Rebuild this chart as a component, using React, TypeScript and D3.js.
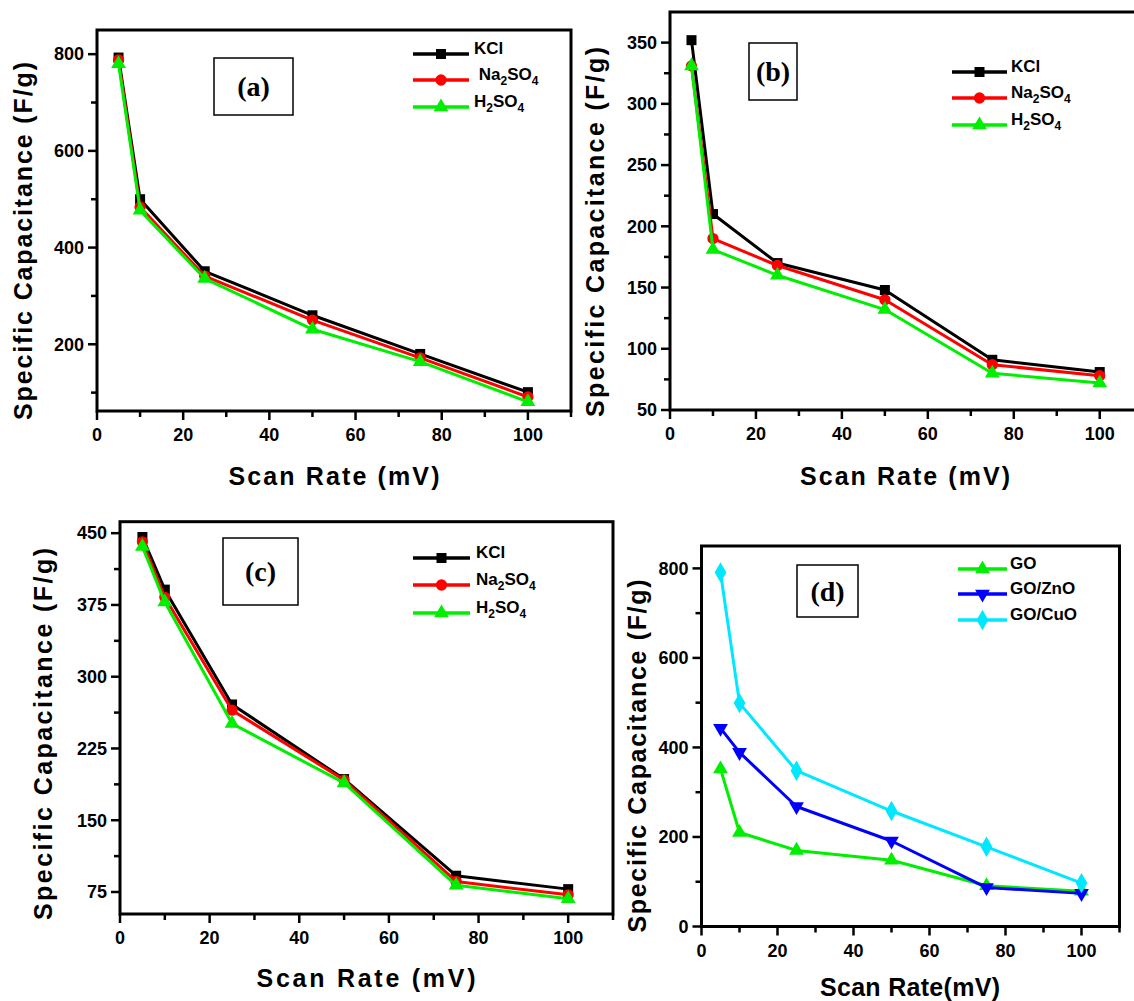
import React from 'react';
import * as d3 from 'd3';

// ---------------- data ----------------
const scanRates = [5, 10, 25, 50, 75, 100];

const aKCl = [793, 500, 351, 260, 180, 101];
const aNa2SO4 = [788, 484, 341, 250, 172, 91];
const aH2SO4 = [780, 477, 336, 231, 164, 81];

const bKCl = [352, 210, 170, 148, 91, 81];
const bNa2SO4 = [331, 190, 168, 140, 87, 78];
const bH2SO4 = [331, 181, 160, 132, 80, 72];

const cKCl = [446, 391, 271, 193, 92, 78];
const cNa2SO4 = [441, 383, 265, 192, 86, 72];
const cH2SO4 = [436, 378, 251, 189, 82, 68];

const dGO = [352, 210, 170, 148, 91, 79];
const dGOZnO = [443, 389, 268, 191, 87, 74];
const dGOCuO = [791, 499, 348, 258, 178, 97];

const xTicks = [0, 20, 40, 60, 80, 100];
const xMinor = [10, 30, 50, 70, 90, 110];
const aYTicks = [200, 400, 600, 800];
const aYMinor = [100, 300, 500, 700];
const bYTicks = [50, 100, 150, 200, 250, 300, 350];
const bYMinor = [75, 125, 175, 225, 275, 325];
const cYTicks = [75, 150, 225, 300, 375, 450];
const cYMinor = [112.5, 187.5, 262.5, 337.5, 412.5];
const dYTicks = [0, 200, 400, 600, 800];
const dYMinor = [100, 300, 500, 700];

const saltNames = ['KCl', 'Na2SO4', 'H2SO4'];
const compositeNames = ['GO', 'GO/ZnO', 'GO/CuO'];
const panelTags = ['(a)', '(b)', '(c)', '(d)'];
const yTitle = 'Specific Capacitance (F/g)';
const xTitle = 'Scan Rate (mV)';
const xTitleD = 'Scan Rate(mV)';

// ---------------- styles / layout ----------------
const BLACK = '#000000';
const RED = '#ff0000';
const GREEN = '#00ee00';
const BLUE = '#0000ff';
const CYAN = '#00e8ff';
const SANS = '"Liberation Sans", Arial, Helvetica, sans-serif';
const SERIF = '"Liberation Serif", "Times New Roman", serif';

type Series = { name: string; values: number[]; color: string; marker: string };

const panels = [
  {
    tag: panelTags[0],
    box: { l: 97, r: 571, t: 30, b: 411 },
    yDomain: [62, 850], yTicks: aYTicks, yMinor: aYMinor,
    series: [
      { name: saltNames[0], values: aKCl, color: BLACK, marker: 'square' },
      { name: ' ' + saltNames[1], values: aNa2SO4, color: RED, marker: 'circle' },
      { name: saltNames[2], values: aH2SO4, color: GREEN, marker: 'triangle' },
    ] as Series[],
    tagBox: { x0: 214, x1: 293, y0: 58, y1: 115 },
    legend: { x0: 413, x1: 469, tx: 474, rows: [54, 80, 107] },
    yLab: { x: 23, y: 241, len: 358 },
    xLab: { x: 334, y: 485, len: 211, text: xTitle },
  },
  {
    tag: panelTags[1],
    box: { l: 670, r: 1142.7, t: 12, b: 410 },
    yDomain: [50, 375], yTicks: bYTicks, yMinor: bYMinor,
    series: [
      { name: saltNames[0], values: bKCl, color: BLACK, marker: 'square' },
      { name: saltNames[1], values: bNa2SO4, color: RED, marker: 'circle' },
      { name: saltNames[2], values: bH2SO4, color: GREEN, marker: 'triangle' },
    ] as Series[],
    tagBox: { x0: 749, x1: 797, y0: 43, y1: 100 },
    legend: { x0: 952, x1: 1007, tx: 1011, rows: [72, 98, 125] },
    yLab: { x: 595, y: 232, len: 370 },
    xLab: { x: 905, y: 485, len: 210, text: xTitle },
  },
  {
    tag: panelTags[2],
    box: { l: 120, r: 613, t: 521.7, b: 914 },
    yDomain: [52, 462], yTicks: cYTicks, yMinor: cYMinor,
    series: [
      { name: saltNames[0], values: cKCl, color: BLACK, marker: 'square' },
      { name: saltNames[1], values: cNa2SO4, color: RED, marker: 'circle' },
      { name: saltNames[2], values: cH2SO4, color: GREEN, marker: 'triangle' },
    ] as Series[],
    tagBox: { x0: 223, x1: 298, y0: 538, y1: 605 },
    legend: { x0: 413, x1: 470, tx: 476, rows: [558, 585, 613] },
    yLab: { x: 43, y: 734, len: 372 },
    xLab: { x: 366, y: 987, len: 219, text: xTitle },
  },
  {
    tag: panelTags[3],
    box: { l: 701.5, r: 1119.5, t: 546, b: 926.5 },
    yDomain: [0, 850], yTicks: dYTicks, yMinor: dYMinor,
    series: [
      { name: compositeNames[0], values: dGO, color: GREEN, marker: 'triangle' },
      { name: compositeNames[1], values: dGOZnO, color: BLUE, marker: 'triangleDown' },
      { name: compositeNames[2], values: dGOCuO, color: CYAN, marker: 'diamond' },
    ] as Series[],
    tagBox: { x0: 797, x1: 858, y0: 565, y1: 617 },
    legend: { x0: 958, x1: 1007, tx: 1010, rows: [569, 594, 620] },
    yLab: { x: 637, y: 756, len: 353 },
    xLab: { x: 910, y: 996, len: 180, text: xTitleD },
  },
];

function markerPath(kind: string): { d: string; rot: number } {
  if (kind === 'square') return { d: d3.symbol(d3.symbolSquare, 100)() as string, rot: 0 };
  if (kind === 'circle') return { d: d3.symbol(d3.symbolCircle, 100)() as string, rot: 0 };
  if (kind === 'triangle') return { d: d3.symbol(d3.symbolTriangle, 95)() as string, rot: 0 };
  if (kind === 'triangleDown') return { d: d3.symbol(d3.symbolTriangle, 95)() as string, rot: 180 };
  return { d: d3.symbol(d3.symbolDiamond, 120)() as string, rot: 0 };
}

function Label({ text, x, y, anchor }: { text: string; x: number; y: number; anchor?: string }) {
  const parts = text.split(/(\d)/).filter((p) => p.length > 0);
  let sub = false;
  return (
    <text x={x} y={y} dy="0.35em" fontFamily={SANS} fontWeight="bold" fontSize={17}
      textAnchor={anchor || 'start'} style={{ whiteSpace: 'pre' }} fill="#000">
      {parts.map((p, i) => {
        const isDigit = /\d/.test(p);
        let dy = 0;
        if (isDigit && !sub) { dy = 5; sub = true; }
        else if (!isDigit && sub) { dy = -5; sub = false; }
        return (
          <tspan key={i} dy={dy} fontSize={isDigit ? 12 : 17}>{p}</tspan>
        );
      })}
    </text>
  );
}

function Panel({ p }: { p: (typeof panels)[number] }) {
  const { l, r, t, b } = p.box;
  const x = d3.scaleLinear().domain([0, 110]).range([l, r]);
  const y = d3.scaleLinear().domain(p.yDomain).range([b, t]);
  const line = d3.line<number>().x((_, i) => x(scanRates[i])).y((v) => y(v));
  return (
    <g>
      {/* series */}
      {p.series.map((s, si) => {
        const m = markerPath(s.marker);
        return (
          <g key={si}>
            <path d={line(s.values) as string} fill="none" stroke={s.color} strokeWidth={3} strokeLinejoin="round" />
            {s.values.map((v, i) => (
              <path key={i} d={m.d} fill={s.color}
                transform={`translate(${x(scanRates[i])},${y(v)}) rotate(${m.rot})`} />
            ))}
          </g>
        );
      })}
      {/* frame */}
      <rect x={l} y={t} width={r - l} height={b - t} fill="none" stroke="#000" strokeWidth={3} />
      {/* x ticks */}
      {xTicks.map((v) => (
        <g key={'xt' + v}>
          <line x1={x(v)} x2={x(v)} y1={b} y2={b + 9} stroke="#000" strokeWidth={2.5} />
          <text x={x(v)} y={b + 30} textAnchor="middle" fontFamily={SANS} fontWeight="bold" fontSize={18}>{v}</text>
        </g>
      ))}
      {xMinor.map((v) => (
        <line key={'xm' + v} x1={x(v)} x2={x(v)} y1={b} y2={b + 6} stroke="#000" strokeWidth={2.5} />
      ))}
      {/* y ticks */}
      {p.yTicks.map((v) => (
        <g key={'yt' + v}>
          <line x1={l - 9} x2={l} y1={y(v)} y2={y(v)} stroke="#000" strokeWidth={2.5} />
          <text x={l - 13} y={y(v)} dy="0.35em" textAnchor="end" fontFamily={SANS} fontWeight="bold" fontSize={18}>{v}</text>
        </g>
      ))}
      {p.yMinor.map((v) => (
        <line key={'ym' + v} x1={l - 6} x2={l} y1={y(v)} y2={y(v)} stroke="#000" strokeWidth={2.5} />
      ))}
      {/* axis titles */}
      <text transform={`translate(${p.yLab.x},${p.yLab.y}) rotate(-90)`} textAnchor="middle" dy="0.35em"
        fontFamily={SANS} fontWeight="bold" fontSize={25} textLength={p.yLab.len} lengthAdjust="spacing">{yTitle}</text>
      <text x={p.xLab.x} y={p.xLab.y} textAnchor="middle" fontFamily={SANS} fontWeight="bold" fontSize={25}
        textLength={p.xLab.len} lengthAdjust="spacing">{p.xLab.text}</text>
      {/* tag box */}
      <rect x={p.tagBox.x0} y={p.tagBox.y0} width={p.tagBox.x1 - p.tagBox.x0} height={p.tagBox.y1 - p.tagBox.y0}
        fill="#fff" stroke="#000" strokeWidth={1.5} />
      <text x={(p.tagBox.x0 + p.tagBox.x1) / 2} y={(p.tagBox.y0 + p.tagBox.y1) / 2} dy="0.35em" textAnchor="middle"
        fontFamily={SERIF} fontWeight="bold" fontSize={28}>{p.tag}</text>
      {/* legend */}
      {p.series.map((s, si) => {
        const m = markerPath(s.marker);
        const ry = p.legend.rows[si];
        const mx = (p.legend.x0 + p.legend.x1) / 2;
        return (
          <g key={'lg' + si}>
            <line x1={p.legend.x0} x2={p.legend.x1} y1={ry} y2={ry} stroke={s.color} strokeWidth={3.5} />
            <path d={m.d} fill={s.color} transform={`translate(${mx},${ry}) rotate(${m.rot})`} />
            <Label text={s.name} x={p.legend.tx} y={ry} />
          </g>
        );
      })}
    </g>
  );
}

export default function App() {
  return (
    <svg width={1134} height={1001} style={{ position: 'absolute', left: 0, top: 0, background: '#fff' }}>
      <rect x={0} y={0} width={1134} height={1001} fill="#fff" />
      {panels.map((p, i) => (
        <Panel key={i} p={p} />
      ))}
    </svg>
  );
}
